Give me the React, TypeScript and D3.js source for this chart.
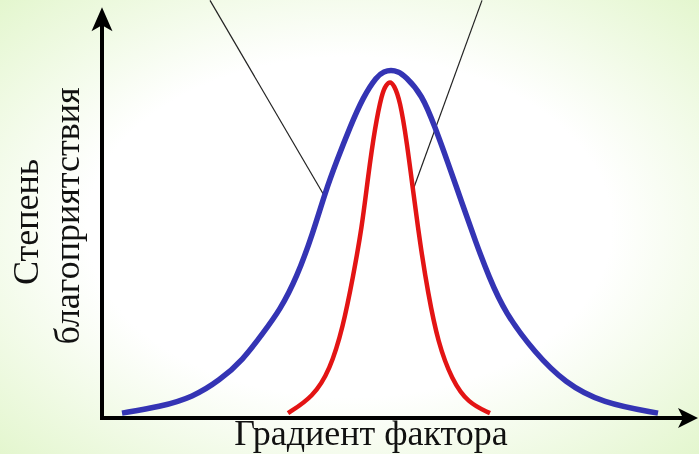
import * as d3 from 'd3';

// Curves (x: factor gradient, y: favourability 0..100)
const BLUE_X = [2.0, 5.8, 9.1, 11.8, 14.1, 16.1, 17.8, 19.5, 21.1, 22.3, 23.5, 24.8, 26.1, 27.5, 28.2, 28.9, 29.6, 30.3, 32.0, 33.3, 34.6, 36.0, 37.3, 38.7, 40.3, 43.3, 46.3, 50.0, 55.6];
const BLUE_Y = [1.4, 3.2, 6.0, 10.9, 16.7, 24.4, 31.0, 40.5, 53.2, 64.7, 74.1, 83.6, 92.2, 98.3, 99.6, 100, 99.6, 98.3, 93.0, 83.6, 73.3, 61.8, 51.1, 40.5, 30.2, 18.7, 10.1, 4.3, 1.4];
const RED_X = [18.6, 21.1, 22.8, 24.1, 25.1, 26.0, 26.6, 27.3, 28.0, 28.4, 28.8, 29.2, 29.8, 30.5, 31.1, 31.8, 32.6, 33.6, 35.0, 36.6, 38.8];
const RED_Y = [1.4, 6.0, 13.8, 26.1, 40.5, 54.9, 69.3, 83.6, 93.4, 95.7, 96.8, 95.7, 91.4, 79.0, 65.5, 50.3, 35.9, 21.6, 10.9, 4.3, 1.4];

// pointer lines: [fromX, fromY, toX, toY]
const POINTER_BLUE = [10.8, 120, 22.3, 63.5];
const POINTER_RED = [38.0, 120, 31.1, 65.5];

const X_LABEL = 'Градиент фактора';
const Y_LABEL = ['Степень', 'благоприятствия'];

const X_END = 59.6;
const Y_END = 118;

const W = 699;
const H = 454;
const SERIF = "'Liberation Serif', 'Times New Roman', serif";

export default function App() {
  const x = d3.scaleLinear().domain([0, 60]).range([102, 702]);
  const y = d3.scaleLinear().domain([0, 100]).range([418, 70]);

  const line = d3.line<[number, number]>()
    .x(function (d) { return x(d[0]); })
    .y(function (d) { return y(d[1]); })
    .curve(d3.curveBasis);

  const blue = BLUE_X.map(function (v, i) { return [v, BLUE_Y[i]] as [number, number]; });
  const red = RED_X.map(function (v, i) { return [v, RED_Y[i]] as [number, number]; });

  const x0 = x(0);
  const y0 = y(0);
  const yTip = y(Y_END);
  const xTip = x(X_END);

  return (
    <svg width={W} height={H} style={{ position: 'fixed', left: 0, top: 0, display: 'block' }}>
      <defs>
        <radialGradient id="bg" cx="50%" cy="50%" r="75%">
          <stop offset="0%" stopColor="#ffffff" />
          <stop offset="50%" stopColor="#ffffff" />
          <stop offset="100%" stopColor="#e0f5c8" />
        </radialGradient>
      </defs>
      <rect width={W} height={H} fill="url(#bg)" />

      {/* pointer lines */}
      {[POINTER_BLUE, POINTER_RED].map(function (p, i) {
        return (
          <line key={i} x1={x(p[0])} y1={y(p[1])} x2={x(p[2])} y2={y(p[3])}
            stroke="#222" strokeWidth={1.2} />
        );
      })}

      <path d={line(blue) || ''} fill="none" stroke="#3434b4" strokeWidth={5.5} strokeLinejoin="round" />
      <path d={line(red) || ''} fill="none" stroke="#e31414" strokeWidth={4.5} strokeLinejoin="round" />

      {/* axes */}
      <line x1={x0} y1={y0 + 2} x2={x0} y2={yTip + 16} stroke="#000" strokeWidth={4} />
      <path d={`M${x0},${yTip} L${x0 - 10.5},${yTip + 24} L${x0},${yTip + 18} L${x0 + 10.5},${yTip + 24} Z`} fill="#000" />
      <line x1={x0 - 2} y1={y0} x2={xTip - 14} y2={y0} stroke="#000" strokeWidth={4} />
      <path d={`M${xTip},${y0} L${xTip - 20},${y0 - 10} L${xTip - 15},${y0} L${xTip - 20},${y0 + 10} Z`} fill="#000" />

      <text x={371} y={445} textAnchor="middle" fontFamily={SERIF} fontSize={36} fill="#111">{X_LABEL}</text>
      <text transform="translate(38,222) rotate(-90)" textAnchor="middle" fontFamily={SERIF} fontSize={36} fill="#111">{Y_LABEL[0]}</text>
      <text transform="translate(79,216) rotate(-90)" textAnchor="middle" fontFamily={SERIF} fontSize={36} fill="#111">{Y_LABEL[1]}</text>
    </svg>
  );
}
